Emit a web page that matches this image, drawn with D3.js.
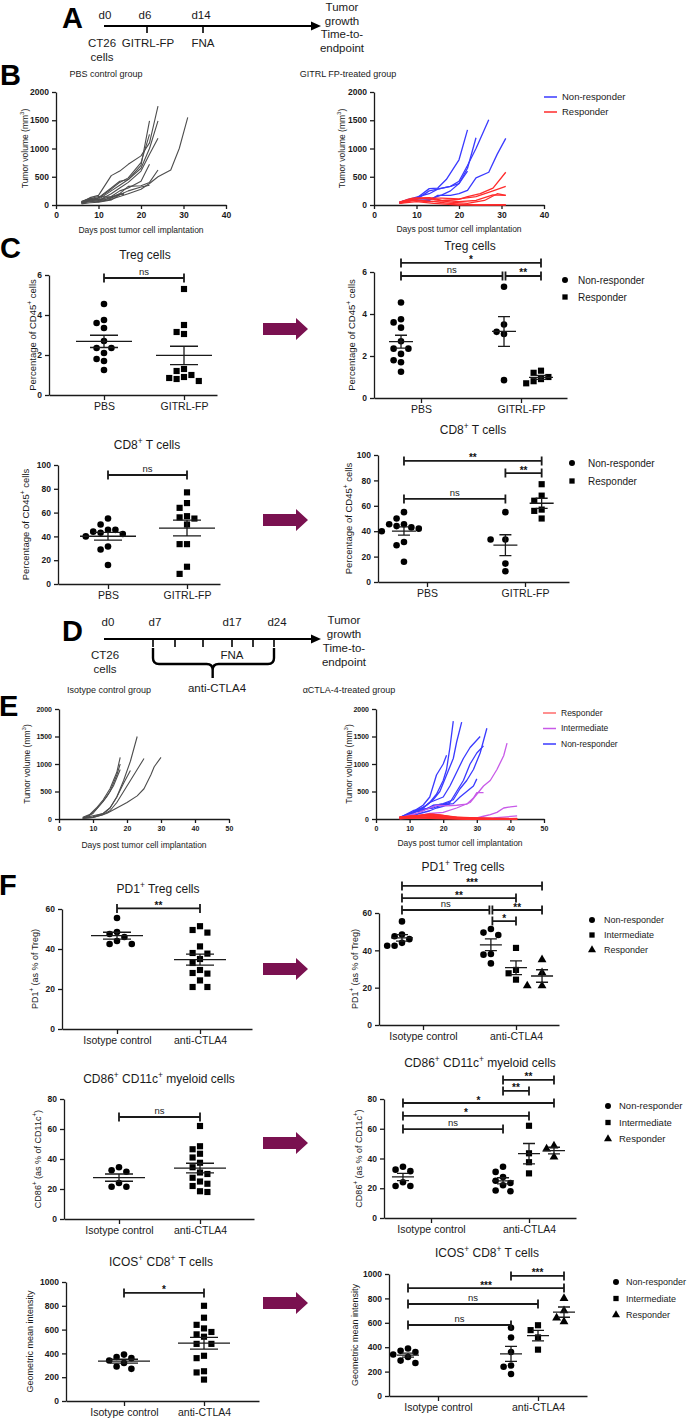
<!DOCTYPE html>
<meta charset="utf-8">
<head>
<script src="https://cdn.jsdelivr.net/npm/d3@7"></script>
<style>
  body { margin: 0; background: #fff; }
  text { font-family: "Liberation Sans", Arial, sans-serif; }
</style>
</head>
<body>
<svg id="fig" width="689" height="1419"></svg>
<script>

// ---------------- data ----------------
// B: tumour growth curves, [day, volume mm3]
var pbsCurves = [
  [[6,50],[8,130],[10,170],[13,520],[15,600],[17,720],[20,870],[22,1100],[24,1750]],
  [[6,40],[8,90],[10,130],[13,300],[15,420],[17,450],[20,700],[22,1490]],
  [[6,30],[8,80],[10,120],[13,280],[15,400],[17,480],[20,750],[22,1250]],
  [[6,60],[8,110],[10,100],[13,250],[15,350],[17,450],[20,650],[22,1000],[24,1490]],
  [[6,40],[8,70],[10,80],[13,200],[15,300],[17,400],[20,600],[22,900],[24,1180]],
  [[6,50],[8,100],[10,90],[13,150],[15,250],[17,300],[20,420],[22,720]],
  [[6,30],[8,60],[10,70],[13,120],[15,200],[17,330],[20,340],[22,400],[24,620]],
  [[6,50],[8,90],[10,60],[13,100],[15,150],[17,200],[20,280],[22,380],[24,500],[27,620],[29,1000],[31,1550]],
  [[6,40],[8,110],[10,150],[13,140],[15,200],[16,180]],
  [[6,60],[8,120],[10,90],[12,110],[14,160],[16,210]],
  [[6,20],[8,40],[10,50],[13,90],[15,180],[17,250],[20,320],[22,350]]
];
var gitrlNRCurves = [
  [[6,50],[8,90],[10,120],[13,290],[15,300],[17,450],[20,800],[22,1330]],
  [[6,40],[8,70],[10,100],[13,250],[16,300],[18,330],[20,420],[22,700],[24,1000],[27,1510]],
  [[6,30],[8,90],[10,140],[13,200],[15,280],[18,330],[20,380],[22,650],[24,1190]],
  [[6,50],[8,80],[10,90],[13,80],[15,170],[18,170],[20,200],[22,260],[24,480],[27,580],[29,900],[31,1180]],
  [[6,40],[8,100],[10,120],[13,100],[16,180],[18,250],[20,380],[22,600]]
];
var gitrlRCurves = [
  [[6,50],[8,100],[9,120],[13,130],[16,80],[20,100],[22,150],[25,200],[28,300],[31,580]],
  [[6,40],[9,100],[12,120],[16,120],[20,110],[24,150],[28,250],[31,330]],
  [[6,30],[9,80],[13,60],[17,80],[20,60],[24,80],[28,180],[31,170]],
  [[6,50],[10,120],[14,100],[18,50],[22,30],[26,80],[29,200],[31,170]],
  [[6,40],[10,90],[14,60],[18,30],[21,10],[24,0],[31,0]],
  [[6,30],[10,60],[14,30],[20,0],[31,5]]
];

// E: tumour growth curves
var isoCurves = [
  [[7,20],[10,60],[13,100],[15,200],[17,400],[19,700],[21,1050],[23,1500]],
  [[7,30],[9,80],[11,200],[13,350],[15,550],[17,850],[18,1120]],
  [[7,20],[9,70],[11,180],[13,320],[15,500],[17,800],[18,1000]],
  [[7,10],[10,100],[12,250],[14,400],[16,600],[18,900]],
  [[7,20],[10,40],[13,100],[15,200],[17,400],[19,650],[21,880]],
  [[7,10],[10,30],[13,80],[15,150],[17,300],[19,500],[21,700],[23,900],[25,1100]],
  [[7,10],[10,30],[14,100],[17,200],[20,300],[23,420],[25,550],[27,800],[28,950],[30,1120]]
];
var ctlaNRCurves = [
  [[7,20],[10,80],[12,170],[14,250],[16,400],[18,800],[20,1000],[21,1160]],
  [[7,20],[10,100],[12,150],[14,200],[16,300],[18,450],[20,700],[21,900],[22,1300],[23,1780]],
  [[7,10],[10,60],[13,180],[15,250],[17,350],[19,500],[21,800],[23,1100],[24,1400],[25.5,1760]],
  [[7,20],[11,150],[14,200],[16,300],[18,350],[20,400],[22,600],[24,850],[26,1100],[28,1300],[31,1500]],
  [[7,10],[11,120],[14,150],[17,250],[20,270],[22,300],[24,500],[26,700],[28,1000],[30,1200],[32,1330]],
  [[7,20],[10,100],[13,160],[16,200],[18,250],[20,280],[23,350],[25,550],[27,700],[29,900],[31,1200],[33,1650]],
  [[7,30],[12,150],[14,180],[17,200],[20,260],[23,280],[25,400],[27,500],[29,600],[30,730]],
  [[7,20],[10,50],[13,100],[16,150],[18,200],[20,230],[22,280]]
];
var ctlaIntCurves = [
  [[7,10],[12,50],[16,100],[20,120],[24,200],[28,300],[30,450],[32,600],[34,700],[36,900],[38,1150],[39,1380]],
  [[7,10],[14,30],[20,20],[26,10],[30,20],[32,50],[34,80],[36,120],[38,200],[40,220],[42,235]],
  [[7,20],[12,100],[16,200],[18,250],[21,240],[24,250],[27,270],[29,380],[30,480],[32,480]],
  [[7,5],[15,20],[25,10],[35,20],[42,55]]
];
var ctlaRCurves = [
  [[7,30],[10,50],[14,60],[17,80],[20,60],[24,30],[28,20],[32,10],[36,0],[42,0]],
  [[7,20],[10,40],[14,70],[18,50],[22,20],[26,10],[30,5],[42,0]],
  [[7,10],[12,30],[16,40],[20,20],[25,10],[30,0],[42,0]],
  [[7,40],[10,30],[14,20],[18,10],[22,5],[28,0],[42,5]],
  [[7,20],[12,50],[16,90],[19,70],[22,40],[26,20],[30,10],[34,5],[42,0]],
  [[7,10],[11,20],[16,30],[21,15],[27,5],[33,0],[42,0]]
];

// C: % of CD45+ cells
var tregPBS = [4.55, 3.75, 3.6, 3.35, 2.7, 2.35, 2.35, 2.1, 1.8, 1.7, 1.25];
var tregGitrlNR = [5.3, 3.5, 3.15, 3.05, 0.85];
var tregGitrlR = [1.3, 1.2, 1.0, 0.9, 0.8, 0.7];
var cd8PBS = [55, 50, 45.5, 45.5, 44, 43, 42, 40, 31.5, 29, 16];
var cd8GitrlNR = [55, 33.5, 33.5, 14.5, 8.5];
var cd8GitrlR = [77, 68, 64, 57, 56, 50];

// F
var pd1Iso = [55.5, 48.5, 47.5, 46, 44, 42.5, 42.5];
var pd1NR = [51.4, 49.5, 48.2, 38, 37.7, 33];
var pd1Int = [41.3, 29.5, 27.7, 24.3];
var pd1Resp = [35, 28, 21, 21];
var cd86Iso = [34.5, 32.5, 31.5, 24, 21.5, 21.5];
var cd86NR = [34.5, 31, 27.5, 25, 23.5, 22, 18.5, 18];
var cd86Int = [62, 43.5, 37.5, 30];
var cd86Resp = [48.5, 46.5, 41];
var icosIso = [390, 370, 360, 340, 320, 290, 270];
var icosNR = [560, 480, 360, 250, 240, 180];
var icosInt = [580, 540, 480, 380];
var icosResp = [800, 700, 640, 610];

var gitrlCats = ['PBS', 'GITRL-FP'];
var ctlaCats = ['Isotype control', 'anti-CTLA4'];

// ---------------- helpers ----------------
var svg = d3.select('#fig');
var INK = '#1a1a1a';
var BLUE = '#3a3aff', RED = '#ff2b2b', VIOLET = '#c85ae8', GREY = '#4d4d4d', ARROW = '#7a1150';
var fmt = d3.format('d');

// text with optional superscripts; parts = [[str, isSup], ...]; y is the visual centre
function txt(g, x, y, parts, o) {
  o = o || {};
  var fs = o.size || 10;
  var t = g.append('text')
    .attr('font-size', fs)
    .attr('text-anchor', o.anchor || 'middle')
    .attr('font-weight', o.weight || 'normal')
    .attr('fill', o.fill || INK);
  if (o.rotate) {
    t.attr('transform', 'translate(' + x + ',' + y + ') rotate(-90)')
     .attr('x', 0).attr('y', 0.35 * fs);
  } else {
    t.attr('x', x).attr('y', y + 0.35 * fs);
  }
  if (typeof parts === 'string') parts = [[parts, 0]];
  var up = false;
  parts.forEach(function(p) {
    var s = t.append('tspan').text(p[0]);
    if (p[1]) {
      s.attr('font-size', 0.7 * fs);
      if (!up) { s.attr('dy', -0.42 * fs); up = true; }
    } else if (up) {
      s.attr('dy', 0.42 * fs); up = false;
    }
  });
  return t;
}

function styleAxis(a, fs, weight) {
  a.attr('font-family', null);
  a.select('.domain').attr('stroke', INK).attr('stroke-width', 1.3);
  a.selectAll('.tick line').attr('stroke', INK).attr('stroke-width', 1.3);
  a.selectAll('.tick text').attr('font-size', fs).attr('font-weight', weight).attr('fill', INK);
}

var shapes = {circle: d3.symbolCircle, square: d3.symbolSquare, triangle: d3.symbolTriangle};
var shapeSize = {circle: 34, square: 38, triangle: 34};

// place points of a column without overlap, like a column scatter
function swarm(vals, cx, y, r) {
  var placed = [];
  var step = 2 * r + 1;
  vals.slice().sort(function(a, b) { return b - a; }).forEach(function(v) {
    var py = y(v);
    for (var k = 0; k < 30; k++) {
      var off = (k % 2 ? -1 : 1) * Math.ceil(k / 2) * step;
      var ok = placed.every(function(p) { return Math.hypot(p.x - (cx + off), p.y - py) >= step; });
      if (ok) { placed.push({x: cx + off, y: py, v: v}); break; }
    }
  });
  return placed;
}

// ---------------- growth charts ----------------
function growthChart(o) {
  var g = svg.append('g');
  var x = d3.scaleLinear().domain([0, o.xMax]).range([o.left, o.right]);
  var y = d3.scaleLinear().domain([0, 2000]).range([o.bottom, o.top]);

  var ax = g.append('g').attr('transform', 'translate(0,' + o.bottom + ')')
    .call(d3.axisBottom(x).ticks(o.xMax / 10).tickFormat(fmt).tickSize(4).tickSizeOuter(0));
  styleAxis(ax, o.tickFs, 'bold');
  var ay = g.append('g').attr('transform', 'translate(' + o.left + ',0)')
    .call(d3.axisLeft(y).tickValues([0, 500, 1000, 1500, 2000]).tickFormat(fmt).tickSize(4).tickSizeOuter(0));
  styleAxis(ay, o.tickFs, 'bold');

  var line = d3.line().x(function(d) { return x(d[0]); }).y(function(d) { return y(d[1]); });
  o.series.forEach(function(s) {
    g.selectAll(null).data(s.curves).enter().append('path')
      .attr('d', line).attr('fill', 'none')
      .attr('stroke', s.color).attr('stroke-width', s.width)
      .attr('stroke-linejoin', 'round');
  });

  txt(g, o.ylabX, (o.top + o.bottom) / 2, [['Tumor volume (mm', 0], ['3', 1], [')', 0]], {size: o.labFs, rotate: true});
  txt(g, (o.left + o.right) / 2, o.xlabY, 'Days post tumor cell implantation', {size: o.labFs});

  (o.legend || []).forEach(function(l, i) {
    var ly = o.legY + i * o.legDy;
    g.append('line').attr('x1', o.legX).attr('x2', o.legX + 13).attr('y1', ly).attr('y2', ly)
      .attr('stroke', l.color).attr('stroke-width', 1.5);
    txt(g, o.legX + 18, ly, l.label, {size: o.legFs, anchor: 'start'});
  });
}

// ---------------- column scatter charts ----------------
function dotChart(o) {
  var g = svg.append('g');
  var x = d3.scaleLinear()
    .domain([(o.left - o.c0) / (o.c1 - o.c0), (o.right - o.c0) / (o.c1 - o.c0)])
    .range([o.left, o.right]);
  var y = d3.scaleLinear().domain([0, o.yMax]).range([o.bottom, o.top]);

  var ax = g.append('g').attr('transform', 'translate(0,' + o.bottom + ')')
    .call(d3.axisBottom(x).tickValues([0, 1]).tickFormat(function(d) { return o.cats[d]; })
      .tickSize(5).tickSizeOuter(0));
  styleAxis(ax, 10.5, 'normal');
  var ay = g.append('g').attr('transform', 'translate(' + o.left + ',0)')
    .call(d3.axisLeft(y).tickValues(d3.range(0, o.yMax + 1e-9, o.yStep)).tickFormat(fmt)
      .tickSize(4).tickSizeOuter(0));
  styleAxis(ay, 8.5, 'bold');

  o.groups.forEach(function(grp) {
    var cx = x(grp.slot);
    var pts = swarm(grp.vals, cx, y, 3.2);
    g.selectAll(null).data(pts).enter().append('path')
      .attr('transform', function(d) { return 'translate(' + d.x + ',' + d.y + ')'; })
      .attr('d', d3.symbol().type(shapes[grp.shape]).size(shapeSize[grp.shape]))
      .attr('fill', '#000');
    var m = d3.mean(grp.vals);
    var se = d3.deviation(grp.vals) / Math.sqrt(grp.vals.length);
    var ym = y(m), ylo = y(m - se), yhi = y(m + se);
    g.append('path')
      .attr('d', 'M' + (cx - o.meanHalf) + ',' + ym + 'H' + (cx + o.meanHalf) +
                 'M' + cx + ',' + ylo + 'V' + yhi +
                 'M' + (cx - o.capHalf) + ',' + ylo + 'H' + (cx + o.capHalf) +
                 'M' + (cx - o.capHalf) + ',' + yhi + 'H' + (cx + o.capHalf))
      .attr('stroke', INK).attr('stroke-width', 1.3).attr('fill', 'none');
  });

  o.brackets.forEach(function(b) {
    var xa = x(o.groups[b.from].slot) + (b.ia || 0);
    var xb = x(o.groups[b.to].slot) - (b.ib || 0);
    var yy = y(b.level);
    g.append('path')
      .attr('d', 'M' + xa + ',' + (yy - 4.5) + 'V' + (yy + 4.5) + 'M' + xa + ',' + yy + 'H' + xb +
                 'M' + xb + ',' + (yy - 4.5) + 'V' + (yy + 4.5))
      .attr('stroke', INK).attr('stroke-width', 1.8).attr('fill', 'none');
    if (b.label === 'ns') txt(g, (xa + xb) / 2, yy - 6, 'ns', {size: 9.5});
    else txt(g, (xa + xb) / 2, yy - 3, b.label, {size: 10, weight: 'bold', fill: '#111'});
  });

  txt(g, o.titleX, o.titleY, o.title, {size: 12});
  txt(g, o.ylabX, (o.top + o.bottom) / 2, o.ylab, {size: o.ylabFs || 9.5, rotate: true});

  if (o.legend) {
    o.legend.items.forEach(function(it, i) {
      var ly = o.legend.y + i * o.legend.dy;
      g.append('path').attr('transform', 'translate(' + o.legend.x + ',' + ly + ')')
        .attr('d', d3.symbol().type(shapes[it[0]]).size(28)).attr('fill', '#000');
      txt(g, o.legend.tx, ly, it[1], {size: o.legend.fs || 10, anchor: 'start'});
    });
  }
}

function bigArrow(cy) {
  svg.append('path')
    .attr('d', 'M263,' + (cy - 6) + 'H296V' + (cy - 11) + 'L308,' + cy + 'L296,' + (cy + 11) +
               'V' + (cy + 6) + 'H263Z')
    .attr('fill', ARROW);
}

function panelLetter(x, y, s) {
  svg.append('text').attr('x', x).attr('y', y).attr('font-size', 29).attr('font-weight', 'bold')
    .attr('fill', '#000').text(s);
}

var TL = 11.5; // timeline font size

// ---------------- A: timeline ----------------
var tA = d3.scaleLinear().domain([0, 6, 14]).range([104, 147, 203]);
function timelineArrow(yy) {
  svg.append('line').attr('x1', 104).attr('x2', 312).attr('y1', yy).attr('y2', yy)
    .attr('stroke', '#000').attr('stroke-width', 2);
  svg.append('path').attr('d', 'M321,' + yy + 'L311,' + (yy - 4.5) + 'L311,' + (yy + 4.5) + 'Z').attr('fill', '#000');
}
panelLetter(62, 28, 'A');
timelineArrow(26);
[6, 14].forEach(function(d) {
  svg.append('line').attr('x1', tA(d)).attr('x2', tA(d)).attr('y1', 26).attr('y2', 33)
    .attr('stroke', '#000').attr('stroke-width', 1.6);
});
var gA = svg.append('g');
txt(gA, tA(0) + 1, 15, 'd0', {size: TL});
txt(gA, tA(6) - 2, 15, 'd6', {size: TL});
txt(gA, tA(14) - 2, 15, 'd14', {size: TL});
txt(gA, tA(0) - 2, 43, 'CT26', {size: TL});
txt(gA, tA(0) - 2, 57, 'cells', {size: TL});
txt(gA, tA(6) + 1, 43, 'GITRL-FP', {size: TL});
txt(gA, tA(14), 43, 'FNA', {size: TL});
['Tumor', 'growth', 'Time-to-', 'endpoint'].forEach(function(s, i) {
  txt(gA, 342, 7 + i * 13.5, s, {size: TL});
});

// ---------------- B ----------------
panelLetter(0, 85, 'B');
txt(svg, 106, 74, 'PBS control group', {size: 9});
txt(svg, 348, 74, 'GITRL FP-treated group', {size: 9});
growthChart({left: 56, right: 226, xMax: 40, top: 92, bottom: 205, tickFs: 8.5, labFs: 8.5,
  ylabX: 25, xlabY: 230,
  series: [{curves: pbsCurves, color: GREY, width: 1.1}]});
growthChart({left: 374, right: 544, xMax: 40, top: 92, bottom: 205, tickFs: 8.5, labFs: 8.5,
  ylabX: 342, xlabY: 229,
  series: [{curves: gitrlNRCurves, color: BLUE, width: 1.3}, {curves: gitrlRCurves, color: RED, width: 1.3}],
  legend: [{color: BLUE, label: 'Non-responder'}, {color: RED, label: 'Responder'}],
  legX: 544, legY: 97, legDy: 15, legFs: 9.5});

// ---------------- C ----------------
panelLetter(0, 258, 'C');
var cd45Lab = [['Percentage of CD45', 0], ['+', 1], [' cells', 0]];
dotChart({left: 49, right: 217, c0: 104, c1: 184, top: 275, bottom: 395, yMax: 6, yStep: 2,
  cats: gitrlCats, meanHalf: 28, capHalf: 14,
  groups: [{vals: tregPBS, slot: 0, shape: 'circle'},
           {vals: tregGitrlNR.concat(tregGitrlR), slot: 1, shape: 'square'}],
  brackets: [{from: 0, to: 1, level: 5.85, label: 'ns'}],
  title: 'Treg cells', titleX: 145, titleY: 255, ylab: cd45Lab, ylabX: 33});
dotChart({left: 374, right: 567, c0: 421, c1: 521, top: 272, bottom: 398, yMax: 6, yStep: 2,
  cats: gitrlCats, meanHalf: 12, capHalf: 6,
  groups: [{vals: tregPBS, slot: -0.2, shape: 'circle'},
           {vals: tregGitrlNR, slot: 0.83, shape: 'circle'},
           {vals: tregGitrlR, slot: 1.2, shape: 'square'}],
  brackets: [{from: 0, to: 2, level: 6.43, label: '*'},
             {from: 0, to: 1, level: 5.81, label: 'ns', ib: 1.5},
             {from: 1, to: 2, level: 5.81, label: '**', ia: 1.5}],
  title: 'Treg cells', titleX: 470, titleY: 246, ylab: cd45Lab, ylabX: 352,
  legend: {x: 565, y: 280, dy: 17, tx: 578, items: [['circle', 'Non-responder'], ['square', 'Responder']]}});
bigArrow(329);

var cd8Title = [['CD8', 0], ['+', 1], [' T cells', 0]];
dotChart({left: 58, right: 220, c0: 108, c1: 187, top: 465, bottom: 584, yMax: 100, yStep: 20,
  cats: gitrlCats, meanHalf: 28, capHalf: 14,
  groups: [{vals: cd8PBS, slot: 0, shape: 'circle'},
           {vals: cd8GitrlNR.concat(cd8GitrlR), slot: 1, shape: 'square'}],
  brackets: [{from: 0, to: 1, level: 91.6, label: 'ns'}],
  title: cd8Title, titleX: 147, titleY: 445, ylab: cd45Lab, ylabX: 26});
dotChart({left: 378, right: 569, c0: 427, c1: 525, top: 455, bottom: 582, yMax: 100, yStep: 20,
  cats: gitrlCats, meanHalf: 12, capHalf: 6,
  groups: [{vals: cd8PBS, slot: -0.235, shape: 'circle'},
           {vals: cd8GitrlNR, slot: 0.8, shape: 'circle'},
           {vals: cd8GitrlR, slot: 1.17, shape: 'square'}],
  brackets: [{from: 0, to: 2, level: 95.3, label: '**'},
             {from: 1, to: 2, level: 85.8, label: '**'},
             {from: 0, to: 1, level: 65.4, label: 'ns'}],
  title: cd8Title, titleX: 473, titleY: 430, ylab: cd45Lab, ylabX: 349,
  legend: {x: 572, y: 463, dy: 18, tx: 588, items: [['circle', 'Non-responder'], ['square', 'Responder']]}});
bigArrow(520);

// ---------------- D: timeline ----------------
var tD = d3.scaleLinear().domain([0, 7, 10, 14, 17, 21, 24]).range([104, 153, 175, 203, 232, 253, 274]);
panelLetter(62, 641, 'D');
timelineArrow(639);
[7, 10, 14, 17, 21, 24].forEach(function(d) {
  svg.append('line').attr('x1', tD(d)).attr('x2', tD(d)).attr('y1', 639).attr('y2', 647)
    .attr('stroke', '#000').attr('stroke-width', 1.6);
});
svg.append('path')
  .attr('d', 'M' + tD(7) + ',648V658Q' + tD(7) + ',664 ' + (tD(7) + 6) + ',664H' + (tD(15) - 6) +
             'Q' + tD(15) + ',664 ' + tD(15) + ',670V678M' + tD(15) + ',670Q' + tD(15) + ',664 ' +
             (tD(15) + 6) + ',664H' + (tD(24) - 6) + 'Q' + tD(24) + ',664 ' + tD(24) + ',658V648')
  .attr('fill', 'none').attr('stroke', '#000').attr('stroke-width', 2.4);
var gD = svg.append('g');
txt(gD, tD(0) + 4, 622, 'd0', {size: TL});
txt(gD, tD(7) + 2, 622, 'd7', {size: TL});
txt(gD, tD(17), 622, 'd17', {size: TL});
txt(gD, tD(24) + 3, 622, 'd24', {size: TL});
txt(gD, 105, 655, 'CT26', {size: TL});
txt(gD, 105, 669, 'cells', {size: TL});
txt(gD, tD(17), 655, 'FNA', {size: TL});
txt(gD, 217, 688, 'anti-CTLA4', {size: TL});
['Tumor', 'growth', 'Time-to-', 'endpoint'].forEach(function(s, i) {
  txt(gD, 344, 620 + i * 14, s, {size: TL});
});

// ---------------- E ----------------
panelLetter(-1, 716, 'E');
txt(svg, 109, 690, 'Isotype control group', {size: 9});
txt(svg, 349, 690, '\u03b1CTLA-4-treated group', {size: 9});
growthChart({left: 59, right: 229, xMax: 50, top: 709, bottom: 819, tickFs: 7, labFs: 8.5,
  ylabX: 27, xlabY: 845,
  series: [{curves: isoCurves, color: GREY, width: 1.1}]});
growthChart({left: 376, right: 544, xMax: 50, top: 709, bottom: 819, tickFs: 7, labFs: 8.5,
  ylabX: 349, xlabY: 843,
  series: [{curves: ctlaNRCurves, color: BLUE, width: 1.3},
           {curves: ctlaIntCurves, color: VIOLET, width: 1.3},
           {curves: ctlaRCurves, color: RED, width: 1.8}],
  legend: [{color: '#ff6b6b', label: 'Responder'}, {color: VIOLET, label: 'Intermediate'},
           {color: BLUE, label: 'Non-responder'}],
  legX: 543, legY: 713, legDy: 15.5, legFs: 8.5});

// ---------------- F ----------------
panelLetter(-1, 895, 'F');
var threeLegend = [['circle', 'Non-responder'], ['square', 'Intermediate'], ['triangle', 'Responder']];

var pd1Title = [['PD1', 0], ['+', 1], [' Treg cells', 0]];
var pd1Lab = [['PD1', 0], ['+', 1], [' (as % of Treg)', 0]];
dotChart({left: 62, right: 252, c0: 117, c1: 200, top: 909, bottom: 1029, yMax: 60, yStep: 20,
  cats: ctlaCats, meanHalf: 26, capHalf: 14,
  groups: [{vals: pd1Iso, slot: 0, shape: 'circle'},
           {vals: pd1NR.concat(pd1Int, pd1Resp), slot: 1, shape: 'square'}],
  brackets: [{from: 0, to: 1, level: 60.3, label: '**'}],
  title: pd1Title, titleX: 158, titleY: 889, ylab: pd1Lab, ylabX: 35, ylabFs: 9});
dotChart({left: 379, right: 559, c0: 423, c1: 516, top: 913, bottom: 1025, yMax: 60, yStep: 20,
  cats: ctlaCats, meanHalf: 11, capHalf: 6,
  groups: [{vals: pd1Iso, slot: -0.226, shape: 'circle'},
           {vals: pd1NR, slot: 0.73, shape: 'circle'},
           {vals: pd1Int, slot: 1.0, shape: 'square'},
           {vals: pd1Resp, slot: 1.28, shape: 'triangle'}],
  brackets: [{from: 0, to: 3, level: 74.5, label: '***'},
             {from: 0, to: 2, level: 68, label: '**'},
             {from: 0, to: 1, level: 61.6, label: 'ns', ib: 1.5},
             {from: 1, to: 3, level: 61.6, label: '**', ia: 1.5},
             {from: 1, to: 2, level: 55.7, label: '*', ia: 1.5}],
  title: pd1Title, titleX: 463, titleY: 867, ylab: pd1Lab, ylabX: 355, ylabFs: 9,
  legend: {x: 592, y: 920, dy: 15, tx: 604, fs: 9, items: threeLegend}});
bigArrow(969);

var cd86Title = [['CD86', 0], ['+', 1], [' CD11c', 0], ['+', 1], [' myeloid cells', 0]];
var cd86Lab = [['CD86', 0], ['+', 1], [' (as % of CD11c', 0], ['+', 1], [')', 0]];
dotChart({left: 64, right: 254, c0: 119, c1: 200, top: 1099, bottom: 1219, yMax: 80, yStep: 20,
  cats: ctlaCats, meanHalf: 26, capHalf: 14,
  groups: [{vals: cd86Iso, slot: 0, shape: 'circle'},
           {vals: cd86NR.concat(cd86Int, cd86Resp), slot: 1, shape: 'square'}],
  brackets: [{from: 0, to: 1, level: 68, label: 'ns'}],
  title: cd86Title, titleX: 159, titleY: 1079, ylab: cd86Lab, ylabX: 38, ylabFs: 9});
dotChart({left: 384, right: 576, c0: 431, c1: 529, top: 1099, bottom: 1218, yMax: 80, yStep: 20,
  cats: ctlaCats, meanHalf: 11, capHalf: 6,
  groups: [{vals: cd86Iso, slot: -0.286, shape: 'circle'},
           {vals: cd86NR, slot: 0.735, shape: 'circle'},
           {vals: cd86Int, slot: 1.0, shape: 'square'},
           {vals: cd86Resp, slot: 1.255, shape: 'triangle'}],
  brackets: [{from: 1, to: 3, level: 92.8, label: '**'},
             {from: 1, to: 2, level: 85.4, label: '**'},
             {from: 0, to: 3, level: 77.3, label: '*'},
             {from: 0, to: 2, level: 68.6, label: '*'},
             {from: 0, to: 1, level: 59.8, label: 'ns'}],
  title: cd86Title, titleX: 480, titleY: 1063, ylab: cd86Lab, ylabX: 359, ylabFs: 9,
  legend: {x: 608, y: 1106, dy: 16.5, tx: 619, fs: 9.5, items: threeLegend}});
bigArrow(1143);

var icosTitle = [['ICOS', 0], ['+', 1], [' CD8', 0], ['+', 1], [' T cells', 0]];
dotChart({left: 66, right: 259, c0: 124, c1: 204, top: 1282, bottom: 1401, yMax: 1000, yStep: 200,
  cats: ctlaCats, meanHalf: 26, capHalf: 14,
  groups: [{vals: icosIso, slot: 0, shape: 'circle'},
           {vals: icosNR.concat(icosInt, icosResp), slot: 1, shape: 'square'}],
  brackets: [{from: 0, to: 1, level: 908, label: '*'}],
  title: icosTitle, titleX: 161, titleY: 1262, ylab: 'Geometric mean intensity', ylabX: 30, ylabFs: 9});
dotChart({left: 389, right: 587, c0: 438, c1: 538, top: 1274, bottom: 1396, yMax: 1000, yStep: 200,
  cats: ctlaCats, meanHalf: 11, capHalf: 6,
  groups: [{vals: icosIso, slot: -0.3, shape: 'circle'},
           {vals: icosNR, slot: 0.73, shape: 'circle'},
           {vals: icosInt, slot: 1.0, shape: 'square'},
           {vals: icosResp, slot: 1.26, shape: 'triangle'}],
  brackets: [{from: 1, to: 3, level: 984, label: '***'},
             {from: 0, to: 3, level: 885, label: '***'},
             {from: 0, to: 2, level: 754, label: 'ns'},
             {from: 0, to: 1, level: 582, label: 'ns'}],
  title: icosTitle, titleX: 487, titleY: 1253, ylab: 'Geometric mean intensity', ylabX: 355, ylabFs: 9,
  legend: {x: 616, y: 1282, dy: 16.5, tx: 626, fs: 9, items: threeLegend}});
bigArrow(1303);

</script>
</body>
